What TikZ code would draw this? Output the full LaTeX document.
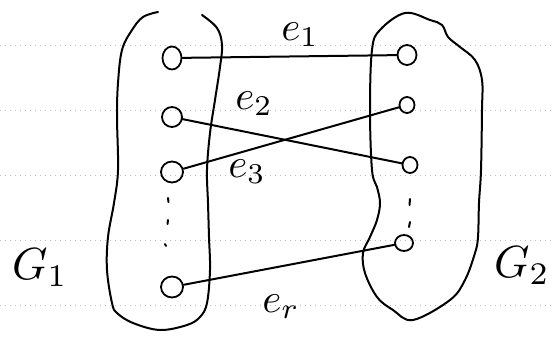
\documentclass[tikz,border=0pt]{standalone}
\usepackage{graphicx}
\usetikzlibrary{shapes.geometric}
\newcommand{\bigtxt}[1]{\scalebox{4.1}{#1}}
\newcommand{\hugetxt}[1]{\scalebox{4.5}{#1}}
\begin{document}
\begin{tikzpicture}[x=1pt,y=-1pt,
  pen/.style={line width=2pt, line cap=round, line join=round},
  vtx/.style={draw, ellipse, line width=1.8pt, inner sep=0pt, minimum width=19pt, minimum height=21pt},
  svtx/.style={vtx, minimum width=15pt, minimum height=16pt},
  lbl/.style={inner sep=0pt},
  paper/.style={gray!50, line width=0.6pt, dash pattern=on 1pt off 4pt},
  dotmark/.style={line width=2pt, line cap=round}]
\useasboundingbox (0,0) rectangle (555,339);
\foreach \yy in {45,110,175,240,305} \draw[paper] (0,\yy) -- (555,\yy);

% left blob (open at top)
\draw[pen] plot[smooth, tension=0.6] coordinates {
  (202,15) (217,28) (222,45) (220,67) (215,100) (210,133) (207,170)
  (208,203) (209,237) (210,270) (207,303) (200,317) (187,325) (160,330)
  (133,323) (117,313) (112,303) (107,270) (108,237) (114,203) (118,170)
  (117,117) (118,83) (122,50) (132,30) (143,17) (158,12)};

% right blob
\draw[pen] plot[smooth cycle, tension=0.6] coordinates {
  (380,30) (405,13) (430,20) (442,25) (448,37) (460,47) (475,60)
  (482,80) (482,110) (481,170) (479,203) (478,237) (475,253) (465,280)
  (450,300) (413,320) (393,310) (377,297) (365,273) (363,253) (370,237)
  (377,220) (380,203) (377,187) (372,170) (370,110) (372,50)};

% vertices of G1
\node[vtx, minimum height=23pt] (a1) at (172,58) {};
\node[vtx, minimum width=20pt, minimum height=20pt] (a2) at (172,117) {};
\node[vtx, minimum width=22pt] (a3) at (172,172) {};
\node[vtx, minimum width=22pt] (ar) at (172,287) {};
% vertices of G2
\node[vtx, minimum width=19pt, minimum height=20pt] (b1) at (407,55) {};
\node[svtx] (b2) at (407,105) {};
\node[svtx] (b3) at (410,165) {};
\node[svtx, minimum width=18pt] (br) at (404,243) {};

% edges
\draw[pen] (a1) -- (b1);
\draw[pen] (a2) -- (b3);
\draw[pen] (a3) -- (b2);
\draw[pen] (ar) -- (br);

% vertical dots
\draw[dotmark] (168,198) -- (168.5,202);
\draw[dotmark] (168,220) -- (167.5,224);
\draw[dotmark] (165,244) -- (166,246);
\draw[dotmark] (410,199) -- (409.5,205);
\draw[dotmark] (410,222) -- (409,227);

% labels
\node[lbl] (le1) at (300,35) {\bigtxt{$e_1$}};
\node[lbl] (le2) at (254,104) {\bigtxt{$e_2$}};
\node[lbl] (le3) at (247,172) {\bigtxt{$e_3$}};
\node[lbl] (ler) at (281,307) {\bigtxt{$e_r$}};
\node[lbl] (g1) at (40,268) {\hugetxt{$G_1$}};
\node[lbl] (g2) at (522,266) {\hugetxt{$G_2$}};
\end{tikzpicture}
\end{document}
